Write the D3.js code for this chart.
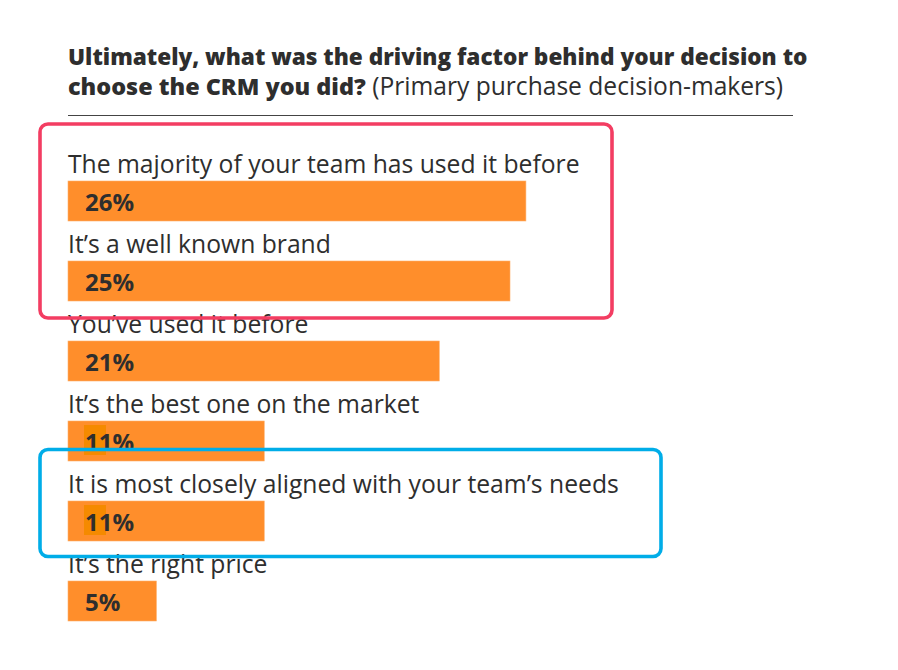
<!DOCTYPE html>
<html>
<head>
<meta charset="utf-8">
<script src="https://cdn.jsdelivr.net/npm/d3@7"></script>
<style>
  body { margin: 0; background: #fff; }
  svg text { font-family: "Open Sans", Lato, sans-serif; fill: #2e2e2e; }
</style>
</head>
<body>
<div id="chart"></div>
<script>
// survey answers, top to bottom
const categories = [
    "The majority of your team has used it before",
    "It\u2019s a well known brand",
    "You\u2019ve used it before",
    "It\u2019s the best one on the market",
    "It is most closely aligned with your team\u2019s needs",
    "It\u2019s the right price"
];
// share of respondents (%)
const values = [25.9, 25.0, 21.0, 11.1, 11.1, 5.0];

const titleBold1 = "Ultimately, what was the driving factor behind your decision to";
const titleBold2 = "choose the CRM you did?";
const titleNormal2 = " (Primary purchase decision-makers)";

// callout boxes drawn over the chart
const callouts = [
    { from: 0, to: 1, color: "#f33d62" },
    { from: 4, to: 4, color: "#00ade8" }
];

const width = 898, height = 670;
const left = 68;

const svg = d3.select("#chart")
    .append("svg")
    .attr("width", width)
    .attr("height", height);

// title
const title = svg.append("text").attr("x", left).attr("y", 65)
    .style("font-size", "22.6px").style("font-weight", 800);
title.append("tspan").text(titleBold1);
const t2 = svg.append("text").attr("x", left).attr("y", 95);
t2.append("tspan").style("font-weight", 800).style("font-size", "23.4px").text(titleBold2);
t2.append("tspan").style("font-weight", 400).style("font-size", "24.6px").text(titleNormal2);

svg.append("line")
    .attr("x1", left).attr("x2", 793)
    .attr("y1", 115.5).attr("y2", 115.5)
    .attr("stroke", "#444").attr("stroke-width", 1.2);

// scales
const x = d3.scaleLinear().domain([0, 100]).range([0, 1768]);
const y = d3.scaleBand().domain(categories).range([141, 621]);
const fmt = d3.format(".0f");

const data = categories.map((c, i) => ({ cat: c, value: values[i] }));

const row = svg.append("g")
    .selectAll("g")
    .data(data)
    .join("g")
    .attr("transform", d => `translate(${left},${y(d.cat)})`);

row.append("text")
    .attr("x", 0)
    .attr("y", 32)
    .style("font-size", "24.7px")
    .text(d => d.cat);

row.append("rect")
    .attr("x", 0)
    .attr("y", y.bandwidth() / 2)
    .attr("height", y.bandwidth() / 2)
    .attr("width", d => x(d.value))
    .attr("fill", "#ff8e2b")
    .attr("stroke", "#ffb06a")
    .attr("stroke-width", 0.6);

// odd darker patch behind the "11" labels in the original
row.filter(d => fmt(d.value) === "11")
    .append("rect")
    .attr("x", 16).attr("y", y.bandwidth() / 2 + 4)
    .attr("width", 22).attr("height", 30)
    .attr("fill", "#f58a00");

row.append("text")
    .attr("x", 17)
    .attr("y", y.bandwidth() / 2 + 30)
    .style("font-size", "24px")
    .style("font-weight", 700)
    .text(d => fmt(d.value) + "%");

// callout boxes
svg.append("g")
    .selectAll("rect")
    .data(callouts)
    .join("rect")
    .attr("x", 40)
    .attr("y", d => d.from === 0 ? y(categories[d.from]) - 17 : y(categories[d.from]) - 11.5)
    .attr("width", d => d.from === 0 ? 572 : 621)
    .attr("height", d => d.from === 0
        ? y(categories[d.to]) + y.bandwidth() + 17 - (y(categories[d.from]) - 17)
        : y.bandwidth() + 27)
    .attr("rx", 8)
    .attr("fill", "none")
    .attr("stroke", d => d.color)
    .attr("stroke-width", 3.6);
</script>
</body>
</html>
